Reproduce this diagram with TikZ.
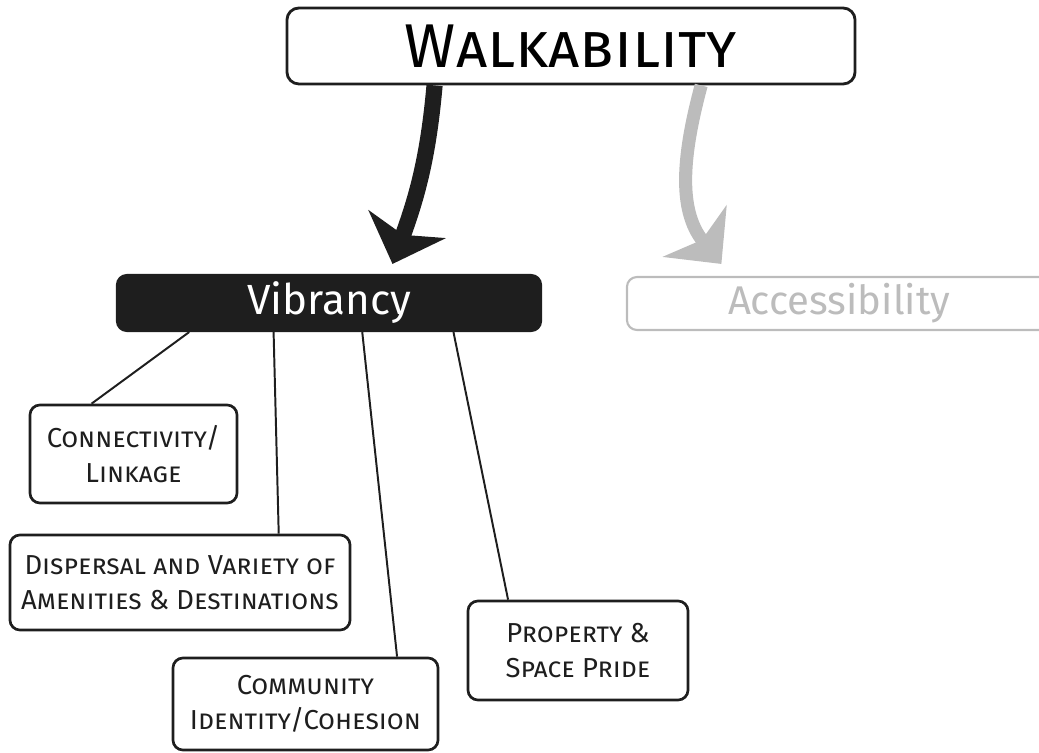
\documentclass[tikz,border=0pt]{standalone}
\usepackage{fontspec}
\setmainfont{Fira Sans}
\usetikzlibrary{arrows.meta, calc}

\definecolor{inkblack}{RGB}{30,30,30}
\definecolor{fadegray}{RGB}{188,188,188}

\begin{document}
\begin{tikzpicture}[x=0.025cm, y=-0.025cm,
		mainbox/.style={draw=inkblack, line width=2pt, rounded corners=0.3cm, inner sep=0pt,
			align=center, font=\fontsize{44}{48}\selectfont\scshape},
		factorbox/.style={draw=inkblack, fill=inkblack, text=white, line width=1.5pt, rounded corners=0.25cm,
			inner sep=0pt, minimum width=10.6cm, font=\fontsize{30}{34}\selectfont},
		greybox/.style={draw=fadegray, line width=1.5pt, rounded corners=0.25cm, text=fadegray,
			inner sep=0pt, minimum width=10.6cm, font=\fontsize{28.5}{32}\selectfont},
		leafbox/.style={draw=inkblack, line width=1.9pt, rounded corners=0.25cm, inner sep=0pt,
			align=center, text=inkblack, font=\fontsize{19.5}{24.5}\selectfont\scshape},
		link/.style={draw=inkblack, line width=1.4pt}]
				\useasboundingbox (0,0) rectangle (1039,753);

				% Draw the top box
				\node[mainbox, minimum width=14.2cm, minimum height=1.9cm] (walk) at (571,46) {Walkability};

				% Draw the two factor boxes
				\node[factorbox, minimum height=1.4cm] (vib) at (329,303) {Vibrancy};
				\node[greybox, minimum height=1.325cm] (acc) at (839,303.5) {Accessibility};

				% Draw the thick arrows
				\draw[inkblack, line width=11.5pt, -{Stealth[length=30pt, width=58pt, inset=8pt]}]
					($(walk.south west)!0.261!(walk.south east)$) to[out=-95, in=70]
					($(vib.north west)!0.649!(vib.north east) + (0,-10)$);
				\draw[fadegray, line width=9.3pt, -{Stealth[length=30pt, width=58pt, inset=8pt]}]
					($(walk.south west)!0.728!(walk.south east)$) to[out=-105, in=129]
					($(acc.north west)!0.224!(acc.north east) + (0,-12)$);

				% Draw the sub-factor boxes
				\node[leafbox, minimum width=5.175cm, minimum height=2.45cm] (conn) at (133.5,454) {Connectivity/\\Linkage};
				\node[leafbox, minimum width=8.5cm, minimum height=2.375cm] (disp) at (180,582.5) {Dispersal and Variety of\\Amenities \& Destinations};
				\node[leafbox, minimum width=6.625cm, minimum height=2.3cm] (comm) at (305.5,704) {Community\\Identity/Cohesion};
				\node[leafbox, minimum width=5.5cm, minimum height=2.475cm] (prop) at (578,650.5) {Property \&\\Space Pride};

				% Draw the lines from Vibrancy to the sub-factors
				\draw[link] ($(vib.south west)!0.172!(vib.south east)$) -- ($(conn.north west)!0.30!(conn.north east)$);
				\draw[link] ($(vib.south west)!0.370!(vib.south east)$) -- ($(disp.north west)!0.788!(disp.north east)$);
				\draw[link] ($(vib.south west)!0.578!(vib.south east)$) -- ($(comm.north west)!0.842!(comm.north east)$);
				\draw[link] ($(vib.south west)!0.792!(vib.south east)$) -- ($(prop.north west)!0.186!(prop.north east)$);
			\end{tikzpicture}
\end{document}
